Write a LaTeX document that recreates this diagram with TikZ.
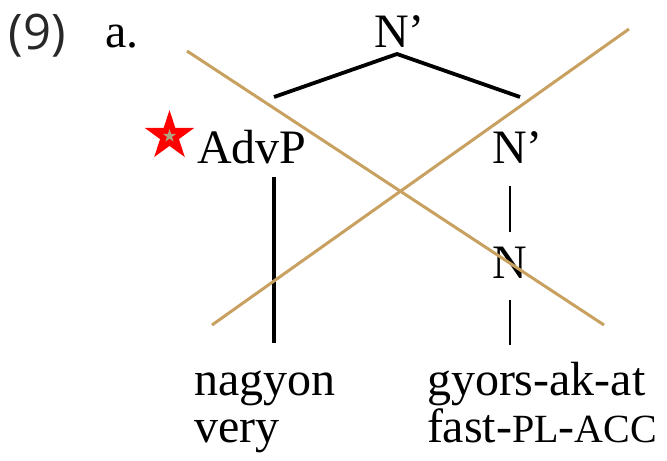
\documentclass[tikz,border=0pt]{standalone}
\usepackage{fontspec}
\setmainfont{Liberation Serif}
\newfontfamily\exfont{Open Sans}
\usetikzlibrary{shapes.geometric}
\definecolor{crossout}{RGB}{200,160,96}
\definecolor{exgrey}{RGB}{40,40,40}
\definecolor{starcore}{RGB}{176,164,130}
\tikzset{
  lbl/.style={anchor=base west, inner sep=0pt, outer sep=0pt, font=\fontsize{24}{28}\selectfont},
  branch/.style={line width=1.9pt, black},
  thinbranch/.style={line width=1pt, black},
  strike/.style={line width=1.5pt, crossout},
  marker/.style={star, star points=5, star point ratio=2.618, inner sep=0pt, draw=none},
}
\begin{document}
\begin{tikzpicture}[x=0.5pt,y=-0.5pt]
\useasboundingbox (0,0) rectangle (667,460);

% example number
\node[lbl, font=\exfont\fontsize{24.5}{28}\selectfont, text=exgrey] (exnum) at (9,50) {(9)};
\node[lbl] (exa) at (105,48) {a.};

% tree labels
\node[lbl] (root) at (374,47) {N’};
\node[lbl] (advp) at (197,163) {AdvP};
\node[lbl] (nbar) at (492,163) {N’};
\node[lbl] (noun) at (492,278) {N};
\node[lbl] (w1) at (194,395) {nagyon};
\node[lbl] (g1) at (194,442) {very};
\node[lbl] (w2) at (427,395) {gyors-ak-at};
\node[lbl] (g2) at (427,442) {fast-{\fontsize{20}{24}\selectfont PL}-{\fontsize{20}{24}\selectfont ACC}};

% ungrammaticality star
\node[marker, fill=red, minimum size=26pt] (bad) at (169.5,136) {};
\node[marker, fill=starcore, minimum size=7pt] (badcore) at (bad.center) {};

% branch end points
\coordinate (apex) at (397,54);
\coordinate (lend) at (274,97);
\coordinate (rend) at (520,97);
\coordinate (advtop) at (274,177);
\coordinate (advbot) at (274,343);
\coordinate (nbartop) at (510,186);
\coordinate (nbarbot) at (510,232);
\coordinate (ntop) at (510,300);
\coordinate (nbot) at (510,345);

\draw[branch] (lend) -- (apex) -- (rend);
\draw[line width=2pt] (advtop) -- (advbot);
\draw[thinbranch] (nbartop) -- (nbarbot);
\draw[thinbranch] (ntop) -- (nbot);

% crossing-out lines
\coordinate (s1a) at (187,51);
\coordinate (s1b) at (604,325);
\coordinate (s2a) at (212,325);
\coordinate (s2b) at (629,29);
\draw[strike] (s1a) -- (s1b);
\draw[strike] (s2a) -- (s2b);
\end{tikzpicture}
\end{document}
